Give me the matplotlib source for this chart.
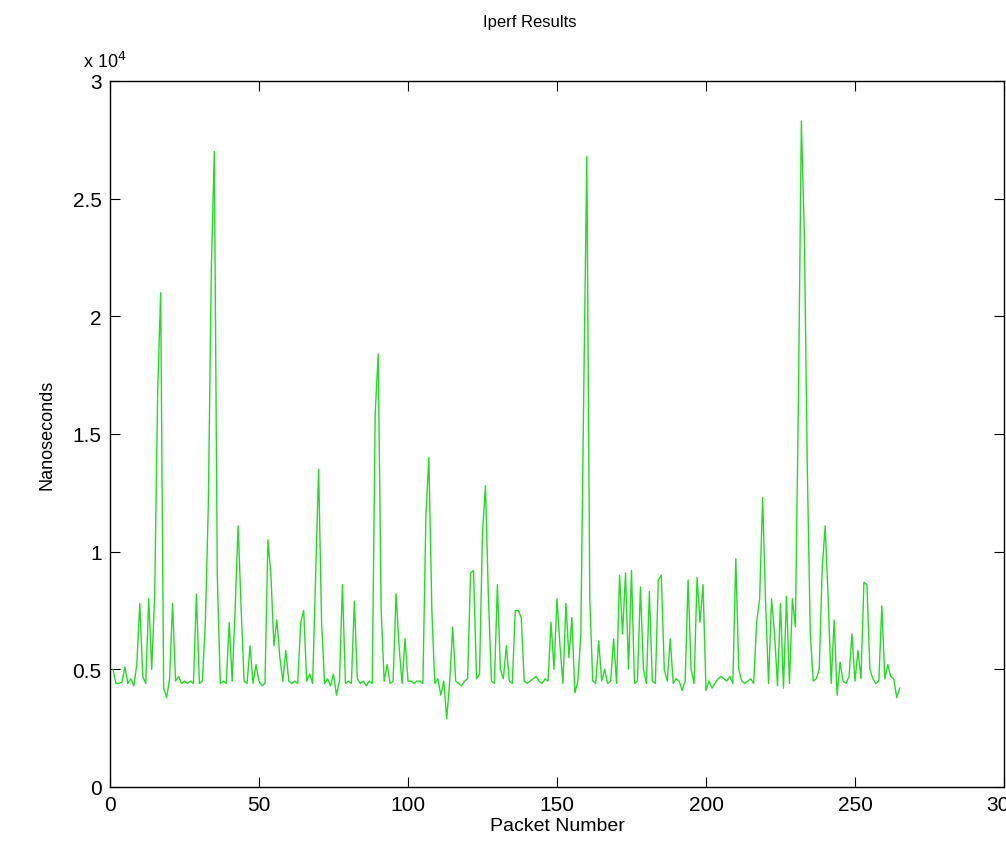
import matplotlib
matplotlib.use("Agg")
from matplotlib import pyplot as plt

# packet delay in nanoseconds, packet numbers 1..265
delays = [
    5000, 4400, 4400, 4450, 5100, 4400, 4600, 4300, 5200, 7800,
    4700, 4400, 8000, 5000, 8200, 16800, 21000, 4200, 3800, 4600,
    7800, 4500, 4700, 4400, 4500, 4400, 4500, 4400, 8200, 4400,
    4500, 7000, 12000, 22000, 27000, 9000, 4400, 4500, 4400, 7000,
    4500, 7600, 11100, 7600, 4500, 4400, 6000, 4400, 5200, 4500,
    4300, 4400, 10500, 9000, 6000, 7100, 5500, 4500, 5800, 4500,
    4400, 4500, 4400, 7000, 7500, 4500, 4800, 4400, 9000, 13500,
    7000, 4400, 4600, 4300, 4800, 3900, 4500, 8600, 4400, 4500,
    4400, 7900, 4600, 4400, 4500, 4300, 4500, 4400, 15900, 18400,
    7500, 4500, 5200, 4400, 4500, 8200, 6000, 4400, 6300, 4500,
    4500, 4400, 4500, 4500, 4400, 11500, 14000, 7500, 4400, 4600,
    3900, 4500, 2900, 4500, 6800, 4500, 4400, 4300, 4500, 4600,
    9100, 9200, 4600, 4800, 10800, 12800, 8000, 4500, 4400, 8600,
    5000, 4600, 6000, 4500, 4400, 7500, 7500, 7200, 4500, 4400,
    4500, 4600, 4700, 4500, 4400, 4600, 4500, 7000, 5000, 8000,
    6000, 4400, 7800, 5500, 7200, 4000, 4500, 6500, 17000, 26800,
    8000, 4500, 4400, 6200, 4500, 5000, 4400, 4500, 6300, 4400,
    9000, 6500, 9100, 5000, 9200, 4400, 4500, 8500, 5000, 4400,
    8300, 4500, 4400, 8800, 9000, 5000, 4500, 6300, 4400, 4600,
    4500, 4100, 4500, 8800, 5000, 4400, 8900, 7000, 8600, 4100,
    4500, 4200, 4400, 4600, 4700, 4600, 4500, 4700, 4400, 9700,
    5000, 4500, 4400, 4500, 4600, 4400, 7000, 8000, 12300, 7800,
    4400, 8000, 6500, 4300, 7800, 4200, 8100, 4400, 8000, 6800,
    16300, 28300, 23500, 13500, 6500, 4500, 4600, 5000, 9300, 11100,
    8000, 4400, 7100, 3900, 5300, 4500, 4400, 4700, 6500, 4500,
    5800, 4600, 8700, 8600, 5000, 4600, 4400, 4500, 7700, 4600,
    5200, 4700, 4600, 3800, 4200,
]
packets = list(range(1, len(delays) + 1))

xticks = [0, 50, 100, 150, 200, 250, 300]
yticks = [0, 0.5, 1, 1.5, 2, 2.5, 3]
ytick_labels = ["0", "0.5", "1", "1.5", "2", "2.5", "3"]

plt.rcParams['font.family'] = ['Liberation Sans', 'DejaVu Sans']

fig = plt.figure(figsize=(10.06, 8.53), dpi=100)
ax = fig.add_axes([110 / 1006, 1 - 788 / 853, (1004 - 110) / 1006, (788 - 82) / 853])

ax.plot(packets, [d / 1e4 for d in delays], color='#22dd22', linewidth=1.0)

ax.set_xlim(0, 300)
ax.set_ylim(0, 3)
ax.set_xticks(xticks)
ax.set_yticks(yticks)
ax.set_yticklabels(ytick_labels)
ax.tick_params(direction='in', length=7, width=0.8, top=True, right=True,
               labelsize=15, colors='black', pad=6)
for s in ax.spines.values():
    s.set_linewidth(1.0)

ax.set_xlabel("Packet Number", fontsize=14, labelpad=2)
ax.set_ylabel("Nanoseconds", fontsize=13, labelpad=12)
fig.text(530 / 1006, 1 - 22 / 853, "Iperf Results", ha='center', va='center', fontsize=12)
fig.text(83 / 1006, 1 - 72 / 853, r"x 10$^{4}$", ha='left', va='bottom', fontsize=13)

fig.savefig("out.png", dpi=100)
